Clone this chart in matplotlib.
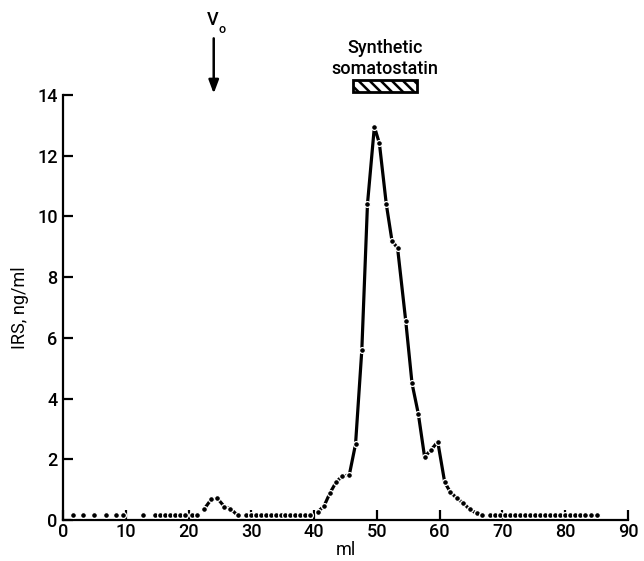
import numpy as np
import matplotlib
matplotlib.use("Agg")
import matplotlib.pyplot as plt

plt.rcParams['font.family'] = ['Roboto', 'Liberation Sans', 'DejaVu Sans']
plt.rcParams['font.weight'] = 'medium'

# fraction volume, ml
ml = [1.5, 3.2, 5.0, 6.8, 8.5, 9.6, 12.8, 14.6, 15.4, 16.2, 17.0, 17.8, 18.6,
      19.4, 20.5, 21.4, 22.5, 23.6, 24.6, 25.7, 26.6, 27.8, 29.2, 30.0, 30.8,
      31.5, 32.3, 33.1, 33.9, 34.7, 35.4, 36.2, 37.0, 37.8, 38.6, 39.4, 40.6,
      41.6, 42.5, 43.5, 44.5, 45.6, 46.6, 47.6, 48.5, 49.6, 50.4, 51.5, 52.4,
      53.3, 54.6, 55.6, 56.6, 57.6, 58.6, 59.7, 60.8, 61.7, 62.8, 63.8, 64.8,
      65.9, 66.8, 68.0, 68.8, 69.6, 70.4, 71.2, 72.0, 72.8, 73.6, 74.4, 75.2,
      76.0, 76.8, 77.6, 78.4, 79.2, 80.0, 80.8, 81.6, 82.4, 83.2, 84.1, 85.0]
# immunoreactive somatostatin, ng/ml
irs = [0.15, 0.15, 0.15, 0.15, 0.15, 0.15, 0.15, 0.15, 0.15, 0.15, 0.15, 0.15, 0.15,
       0.15, 0.15, 0.15, 0.37, 0.68, 0.71, 0.44, 0.38, 0.16, 0.15, 0.15, 0.15,
       0.15, 0.15, 0.15, 0.15, 0.15, 0.15, 0.15, 0.15, 0.15, 0.15, 0.15, 0.27,
       0.47, 0.88, 1.25, 1.45, 1.48, 2.5, 5.6, 10.4, 12.95, 12.4, 10.4, 9.2,
       8.95, 6.55, 4.5, 3.5, 2.08, 2.3, 2.58, 1.25, 0.92, 0.71, 0.55, 0.35,
       0.22, 0.16, 0.15, 0.15, 0.15, 0.15, 0.15, 0.15, 0.15, 0.15, 0.15, 0.15,
       0.15, 0.15, 0.15, 0.15, 0.15, 0.15, 0.15, 0.15, 0.15, 0.15, 0.15, 0.15]

v0 = 24.0                  # void volume
synthetic = (46.2, 56.4)   # elution range of synthetic somatostatin

ml = np.array(ml)
irs = np.array(irs)

fig = plt.figure(figsize=(6.44, 5.61), dpi=100)
ax = fig.add_axes([0.098, 0.073, 0.877, 0.758])

# joined segments (peaks), dots everywhere
for lo, hi in [(22, 28.5), (40, 67.5)]:
    m = (ml >= lo) & (ml <= hi)
    ax.plot(ml[m], irs[m], color='black', lw=2.3, solid_capstyle='round', zorder=2)
ax.plot(ml, irs, 'o', ms=4.2, color='black', mec='white', mew=0.9, zorder=3,
        clip_on=False)

ax.set_xlim(0, 90)
ax.set_ylim(0, 14)
ax.set_xticks(range(0, 91, 10))
ax.set_yticks(range(0, 15, 2))
for s in ['top', 'right']:
    ax.spines[s].set_visible(False)
for s in ['left', 'bottom']:
    ax.spines[s].set_linewidth(1.6)
ax.tick_params(direction='in', length=7, width=1.6, labelsize=13, pad=2)
ax.tick_params(axis='y', pad=4)
ax.set_xlabel('ml', fontsize=13, labelpad=0)
ax.set_ylabel('IRS, ng/ml', fontsize=13, labelpad=6)

# void volume arrow
ax.annotate('', xy=(v0, 13.95), xytext=(v0, 15.95), annotation_clip=False,
            arrowprops=dict(arrowstyle='-|>,head_width=0.3,head_length=0.8',
                            color='black', lw=1.8))
ax.text(v0 - 0.1, 16.45, 'V', fontsize=13, ha='center', va='center', clip_on=False)
ax.text(v0 + 1.4, 16.15, 'o', fontsize=9, ha='center', va='center', clip_on=False)

# synthetic somatostatin marker
mid = sum(synthetic) / 2
ax.text(mid, 15.55, 'Synthetic', fontsize=13, ha='center', va='center', clip_on=False)
ax.text(mid, 14.85, 'somatostatin', fontsize=13, ha='center', va='center', clip_on=False)
plt.rcParams['hatch.linewidth'] = 1.8
bar = plt.Rectangle((synthetic[0], 14.08), synthetic[1] - synthetic[0], 0.4,
                    facecolor='white', edgecolor='black', lw=2.0, hatch='\\\\\\',
                    clip_on=False)
ax.add_patch(bar)

fig.savefig('out.png', dpi=100)
